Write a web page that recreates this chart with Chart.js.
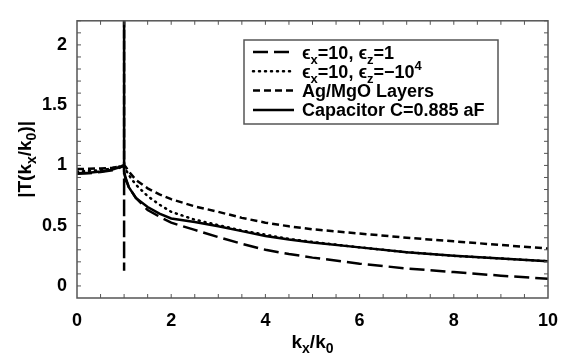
<!DOCTYPE html>
<html>
<head>
<meta charset="utf-8">
<script src="https://cdn.jsdelivr.net/npm/chart.js@4.4.0/dist/chart.umd.min.js"></script>
<style>
  body { margin: 0; background: #fff; }
  #wrap { width: 577px; height: 355px; position: relative; }
</style>
</head>
<body>
<div id="wrap"><canvas id="chart"></canvas></div>
<script>
// k_x/k_0 sample positions (x = 1 repeated for the resonance spike)
var kx = [0, 0.25, 0.5, 0.75, 0.9, 1, 1, 1, 1.03, 1.1, 1.25, 1.5, 1.75, 2, 2.5, 3, 3.5, 4, 4.5, 5, 6, 7, 8, 9, 10];

// |T| for each case
var epsZ1 = [0.93, 0.935, 0.945, 0.96, 0.98, 1.0, 0.126, 0.94, 0.89, 0.82, 0.73, 0.63, 0.575, 0.525, 0.465, 0.405, 0.35, 0.30, 0.265, 0.235, 0.185, 0.145, 0.115, 0.085, 0.06];
var epsZneg = [0.95, 0.955, 0.96, 0.975, 0.99, 1.0, 1.0, 1.0, 0.97, 0.92, 0.84, 0.745, 0.675, 0.615, 0.55, 0.505, 0.46, 0.425, 0.39, 0.365, 0.32, 0.28, 0.25, 0.228, 0.205];
var agMgo = [0.97, 0.972, 0.975, 0.98, 0.99, 1.0, 2.5, 1.0, 0.99, 0.95, 0.88, 0.81, 0.76, 0.72, 0.66, 0.615, 0.565, 0.525, 0.495, 0.47, 0.435, 0.40, 0.37, 0.34, 0.31];
var capacitor = [0.935, 0.94, 0.95, 0.965, 0.985, 1.0, 2.5, 0.95, 0.90, 0.82, 0.73, 0.655, 0.60, 0.56, 0.53, 0.495, 0.455, 0.415, 0.385, 0.36, 0.32, 0.28, 0.25, 0.228, 0.205];

var seriesLabels = ['ϵ_x=10, ϵ_z=1', 'ϵ_x=10, ϵ_z=−10^4', 'Ag/MgO Layers', 'Capacitor C=0.885 aF'];
var xTicks = [0, 2, 4, 6, 8, 10];
var yTicks = [0, 0.5, 1, 1.5, 2];
var xTitle = 'k_x/k_0';
var yTitle = '|T(k_x/k_0)|';

var FONT = '"Liberation Sans", Arial, Helvetica, sans-serif';

function pts(ys) {
    return kx.map(function (x, i) { return { x: x, y: ys[i] }; });
}

// split "a_x b^4" into normal / sub / sup pieces
function parseRich(str) {
    var parts = [];
    var buf = '';
    for (var i = 0; i < str.length; i++) {
        var c = str[i];
        if (c === '_' || c === '^') {
            if (buf) parts.push([buf, 'n']);
            buf = '';
            var j = i + 1;
            var s = str[j];
            j++;
            if (c === '^') {
                while (j < str.length && /[0-9]/.test(str[j])) { s += str[j]; j++; }
            }
            parts.push([s, c === '_' ? 'sub' : 'sup']);
            i = j - 1;
        } else {
            buf += c;
        }
    }
    if (buf) parts.push([buf, 'n']);
    return parts;
}

function richWidth(ctx, parts, size) {
    var w = 0;
    parts.forEach(function (p) {
        ctx.font = 'bold ' + (p[1] === 'n' ? size : Math.round(size * 0.72)) + 'px ' + FONT;
        w += ctx.measureText(p[0]).width;
    });
    return w;
}

function drawRich(ctx, parts, x, y, size) {
    ctx.textBaseline = 'alphabetic';
    ctx.textAlign = 'left';
    parts.forEach(function (p) {
        var dy = 0;
        var sz = size;
        if (p[1] === 'sub') { sz = Math.round(size * 0.72); dy = size * 0.28; }
        if (p[1] === 'sup') { sz = Math.round(size * 0.72); dy = -size * 0.42; }
        ctx.font = 'bold ' + sz + 'px ' + FONT;
        ctx.fillText(p[0], x, y + dy);
        x += ctx.measureText(p[0]).width;
    });
}

var framePlugin = {
    id: 'frame',
    afterDraw: function (chart) {
        var ctx = chart.ctx;
        var a = chart.chartArea;
        var xs = chart.scales.x, ys = chart.scales.y;
        ctx.save();
        ctx.strokeStyle = '#555';
        ctx.lineWidth = 1.5;
        ctx.strokeRect(a.left, a.top, a.right - a.left, a.bottom - a.top);

        // inward ticks on all four sides
        ctx.lineWidth = 1;
        ctx.beginPath();
        for (var v = 0.5; v < 10; v += 0.5) {
            var px = xs.getPixelForValue(v);
            ctx.moveTo(px, a.bottom); ctx.lineTo(px, a.bottom - 4);
            ctx.moveTo(px, a.top); ctx.lineTo(px, a.top + 4);
        }
        for (var k = 0; k <= 22; k++) {
            var py = ys.getPixelForValue(k / 10);
            ctx.moveTo(a.left, py); ctx.lineTo(a.left + 4, py);
            ctx.moveTo(a.right, py); ctx.lineTo(a.right - 4, py);
        }
        ctx.stroke();

        ctx.fillStyle = '#000';
        // x title
        var xp = parseRich(xTitle);
        var w = richWidth(ctx, xp, 19);
        drawRich(ctx, xp, (a.left + a.right) / 2 - w / 2, 348, 19);
        // y title, rotated
        var yp = parseRich(yTitle);
        var wy = richWidth(ctx, yp, 19);
        ctx.save();
        ctx.translate(31, (a.top + a.bottom) / 2);
        ctx.rotate(-Math.PI / 2);
        drawRich(ctx, yp, -wy / 2, 0, 19);
        ctx.restore();

        // legend box
        var bx = 244, by = 40, bw = 254, bh = 84;
        ctx.fillStyle = '#fff';
        ctx.fillRect(bx, by, bw, bh);
        ctx.strokeStyle = '#555';
        ctx.lineWidth = 1.5;
        ctx.strokeRect(bx, by, bw, bh);
        chart.data.datasets.forEach(function (ds, i) {
            var rowY = 52 + i * 19.3;
            ctx.strokeStyle = '#000';
            ctx.lineWidth = 2.5;
            ctx.setLineDash(ds.borderDash || []);
            ctx.lineCap = ds.borderCapStyle || 'butt';
            ctx.beginPath();
            ctx.moveTo(253, rowY);
            ctx.lineTo(294, rowY);
            ctx.stroke();
            ctx.setLineDash([]);
            ctx.fillStyle = '#000';
            drawRich(ctx, parseRich(seriesLabels[i]), 302, rowY + 6.5, 18);
        });
        ctx.restore();
    }
};

function makeSet(i, ys, dash, cap) {
    return {
        label: seriesLabels[i],
        data: pts(ys),
        borderColor: '#000',
        borderWidth: 2.5,
        borderDash: dash,
        borderCapStyle: cap || 'butt',
        pointRadius: 0,
        tension: 0,
        fill: false
    };
}

function plainLabel(v) { return String(v); }

new Chart(document.getElementById('chart'), {
    type: 'line',
    data: {
        datasets: [
            makeSet(0, epsZ1, [15, 6]),
            makeSet(1, epsZneg, [1, 5], 'round'),
            makeSet(2, agMgo, [7, 4]),
            makeSet(3, capacitor, [])
        ]
    },
    options: {
        responsive: true,
        maintainAspectRatio: false,
        animation: false,
        layout: { padding: { left: 0, top: 7, right: 29, bottom: 0 } },
        plugins: { legend: { display: false }, tooltip: { enabled: false } },
        scales: {
            x: {
                type: 'linear',
                min: 0,
                max: 10,
                afterBuildTicks: function (s) { s.ticks = xTicks.map(function (v) { return { value: v }; }); },
                afterFit: function (s) { s.height = 57; },
                grid: { display: false, drawTicks: false },
                border: { display: false },
                ticks: { color: '#000', padding: 12, maxRotation: 0, callback: plainLabel, font: { family: FONT, size: 18, weight: 'bold' } }
            },
            y: {
                type: 'linear',
                min: -0.1,
                max: 2.2,
                afterBuildTicks: function (s) { s.ticks = yTicks.map(function (v) { return { value: v }; }); },
                afterFit: function (s) { s.width = 77; },
                grid: { display: false, drawTicks: false },
                border: { display: false },
                ticks: { color: '#000', padding: 10, callback: plainLabel, font: { family: FONT, size: 18, weight: 'bold' } }
            }
        }
    },
    plugins: [framePlugin]
});
</script>
</body>
</html>
